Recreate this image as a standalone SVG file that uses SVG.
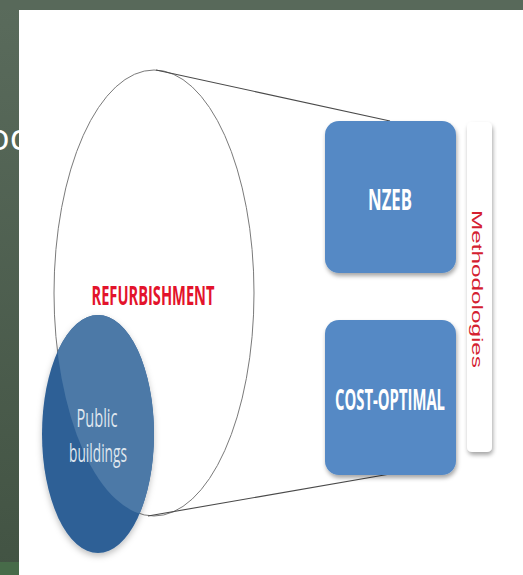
<svg xmlns="http://www.w3.org/2000/svg" width="523" height="575" viewBox="0 0 523 575">
  <defs>
    <linearGradient id="side" x1="0" y1="0" x2="0" y2="1">
      <stop offset="0" stop-color="#5a6b5c"/>
      <stop offset="1" stop-color="#425343"/>
    </linearGradient>
    <filter id="shadow" x="-20%" y="-20%" width="140%" height="140%">
      <feDropShadow dx="1" dy="3" stdDeviation="2" flood-color="#000" flood-opacity="0.35"/>
    </filter>
    <filter id="shadowSoft" x="-20%" y="-20%" width="140%" height="140%">
      <feDropShadow dx="0" dy="3" stdDeviation="3" flood-color="#000" flood-opacity="0.25"/>
    </filter>
    <clipPath id="bigClip">
      <ellipse cx="154" cy="293" rx="100" ry="223"/>
    </clipPath>
    <style>
      .box { fill: #5589c5; filter: url(#shadow); }
      .boxText { font-family: "Open Sans", "Liberation Sans", sans-serif; font-weight: bold; fill: #ffffff; text-anchor: middle; }
      .line { stroke: #4a4a4a; stroke-width: 1.1; fill: none; }
    </style>
  </defs>

  <!-- background -->
  <rect x="0" y="0" width="523" height="575" fill="url(#side)"/>
  <rect x="0" y="0" width="523" height="10" fill="#58695a"/>
  <rect x="0" y="562" width="19" height="13" fill="#476b49"/>
  <text x="-12" y="150" font-family="Open Sans, Liberation Sans, sans-serif" font-size="36" fill="#ffffff">oc</text>
  <rect x="19" y="10" width="504" height="565" fill="#ffffff"/>

  <!-- big cylinder ellipse -->
  <g id="refurbishment">
    <ellipse cx="154" cy="293" rx="100" ry="223" fill="#ffffff" stroke="#7a7a7a" stroke-width="1"/>
  </g>

  <!-- connectors (cylinder sides) -->
  <g id="connectors">
    <line class="line" x1="156" y1="70" x2="390" y2="121"/>
    <line class="line" x1="148" y1="516" x2="390" y2="474"/>
  </g>

  <!-- public buildings -->
  <g id="public-buildings">
    <ellipse cx="98" cy="434" rx="56" ry="119" fill="#2f6096" filter="url(#shadowSoft)"/>
    <ellipse cx="98" cy="434" rx="56" ry="119" fill="#4c79a7" clip-path="url(#bigClip)"/>
    <text x="97" y="427" font-family="Open Sans, Liberation Sans, sans-serif" font-size="26" fill="#dfe6ee" text-anchor="middle" textLength="41" lengthAdjust="spacingAndGlyphs">Public</text>
    <text x="98" y="462" font-family="Open Sans, Liberation Sans, sans-serif" font-size="26" fill="#dfe6ee" text-anchor="middle" textLength="58" lengthAdjust="spacingAndGlyphs">buildings</text>
  </g>

  <g id="refurbishment-label">
    <text x="153" y="305" font-family="Open Sans, Liberation Sans, sans-serif" font-weight="bold" font-size="27" fill="#e3132b" text-anchor="middle" textLength="123" lengthAdjust="spacingAndGlyphs">REFURBISHMENT</text>
  </g>

  <g id="nzeb">
    <rect class="box" x="325" y="121" width="131" height="152" rx="14"/>
    <text class="boxText" x="390" y="210" font-size="28" textLength="44" lengthAdjust="spacingAndGlyphs">NZEB</text>
  </g>

  <g id="cost-optimal">
    <rect class="box" x="325" y="320" width="131" height="155" rx="14"/>
    <text class="boxText" x="390" y="410" font-size="28" textLength="110" lengthAdjust="spacingAndGlyphs">COST-OPTIMAL</text>
  </g>

  <g id="methodologies">
    <rect x="467" y="122" width="25" height="330" rx="5" fill="#ffffff" filter="url(#shadow)"/>
    <text transform="translate(472,210) rotate(90)" x="0" y="0" font-family="Liberation Sans, Arial, sans-serif" font-size="14" fill="#d4202f" textLength="158" lengthAdjust="spacingAndGlyphs">Methodologies</text>
  </g>
</svg>
